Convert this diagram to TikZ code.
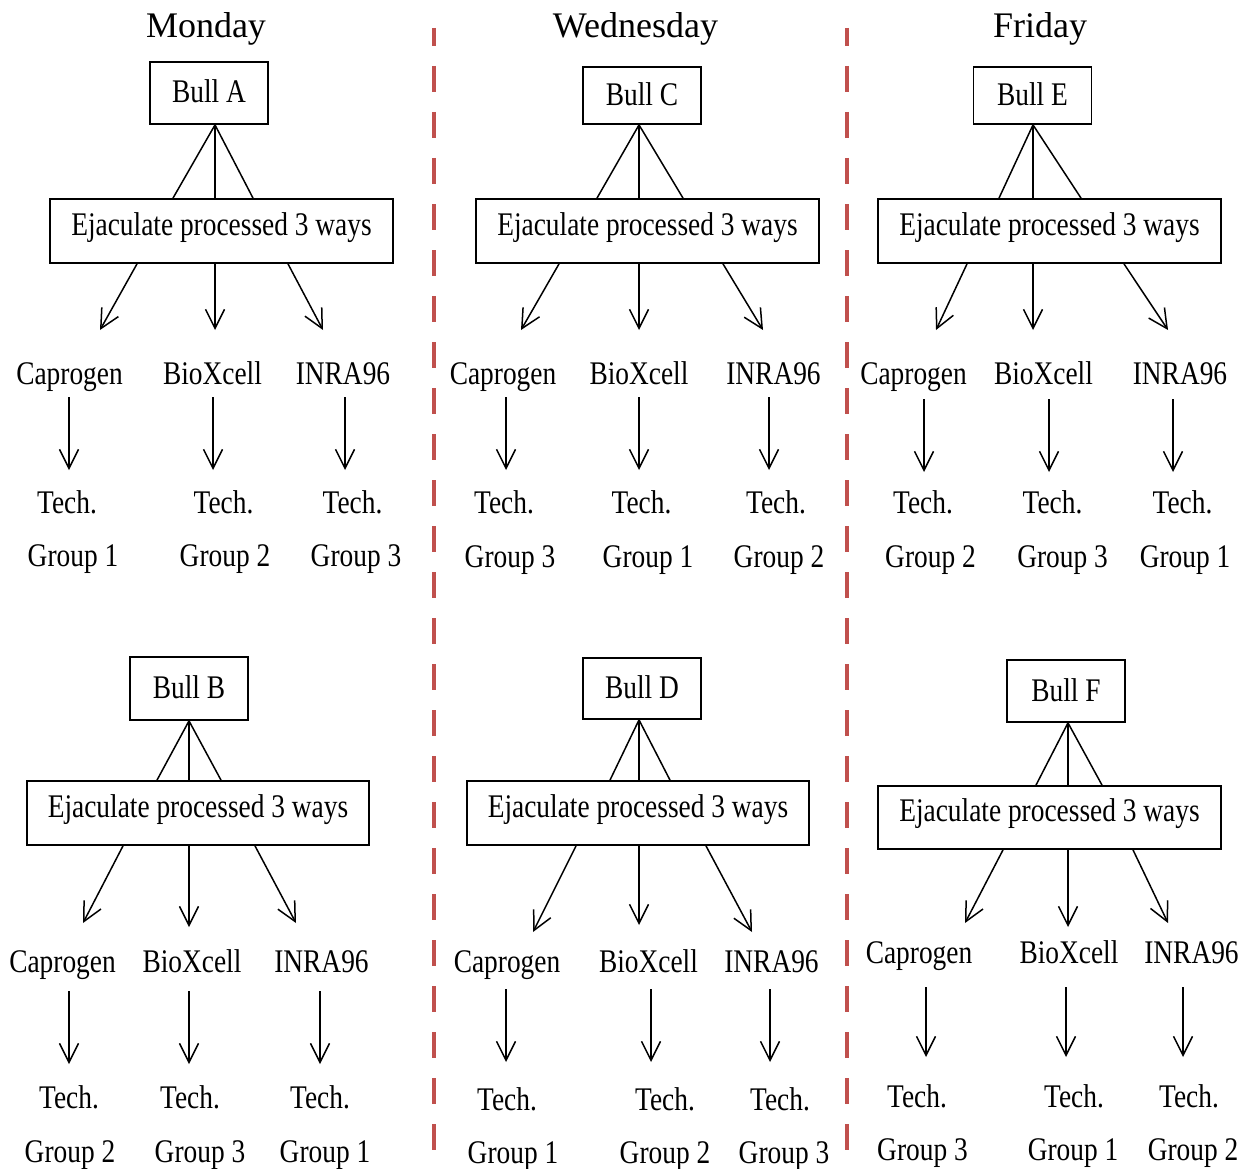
\documentclass[tikz,border=0pt]{standalone}
\usepackage{fontspec}
\setmainfont{Liberation Serif}[FakeBold=0.3]
\newfontfamily\cnd[FakeStretch=0.83]{Liberation Serif}
\newfontfamily\ttl{Liberation Serif}
\usetikzlibrary{arrows.meta}
\definecolor{dashred}{RGB}{192,80,77}
\newcommand\dnarrow[4]{%
  \coordinate (#1s) at (#2,#3);
  \coordinate (#1e) at (#2,#4);
  \draw[arr] (#1s) -- (#1e);}
\begin{document}
\begin{tikzpicture}[x=1pt,y=-1pt,
  bull/.style={draw, line width=1.8pt, minimum width=118pt, minimum height=#1,
    inner sep=0pt, font=\cnd\fontsize{33}{36}\selectfont, text height=24pt, text depth=4pt},
  eject/.style={draw, line width=1.8pt, minimum width=343pt, minimum height=#1,
    inner sep=0pt, font=\cnd\fontsize{33}{36}\selectfont, text height=24pt, text depth=16pt},
  lbl/.style={font=\cnd\fontsize{33}{36}\selectfont, anchor=base, inner sep=0pt},
  daytitle/.style={font=\ttl\fontsize{36}{40}\selectfont, anchor=base, inner sep=0pt},
  link/.style={line width=1.5pt},
  arr/.style={line width=1.5pt, -{Straight Barb[length=19pt,width=19pt]}},
  sep/.style={dashred, line width=4.5pt, dash pattern=on 26pt off 20pt, dash phase=8pt}]
\fill[white] (0,0) rectangle (1252,1169);
\useasboundingbox (0,0) rectangle (1252,1169);

% separators
\coordinate (s1t) at (434,28); \coordinate (s1b) at (434,1169);
\coordinate (s2t) at (847,28); \coordinate (s2b) at (847,1169);
\draw[sep] (s1t) -- (s1b);
\draw[sep] (s2t) -- (s2b);

% titles
\node[daytitle] (mon) at (206,38) {Monday};
\node[daytitle] (wed) at (635.5,38) {Wednesday};
\node[daytitle] (fri) at (1040,38) {Friday};

% ================= Panel A (Monday top)
\node[bull=62pt] (bA) at (209,93) {Bull A};
\node[eject=64pt] (eA) at (221.5,231) {Ejaculate processed 3 ways};
\draw[link] ([xshift=6pt]bA.south) -- ([xshift=-48.5pt]eA.north);
\draw[link] ([xshift=6pt]bA.south) -- ([xshift=-6.5pt]eA.north);
\draw[link] ([xshift=6pt]bA.south) -- ([xshift=31.5pt]eA.north);
\coordinate (pA1) at (100,330); \coordinate (pA2) at (215,330); \coordinate (pA3) at (323,330);
\draw[arr] ([xshift=-84.5pt]eA.south) -- (pA1);
\draw[arr] ([xshift=-6.5pt]eA.south) -- (pA2);
\draw[arr] ([xshift=66.5pt]eA.south) -- (pA3);
\node[lbl] (cA) at (69.5,384) {Caprogen};
\node[lbl] (xA) at (212.5,384) {BioXcell};
\node[lbl] (iA) at (343,384) {INRA96};
\dnarrow{dA1}{69}{397}{470}
\dnarrow{dA2}{213}{397}{470}
\dnarrow{dA3}{345}{397}{470}
\node[lbl] (tA1) at (67,513) {Tech.};
\node[lbl] (tA2) at (223.5,513) {Tech.};
\node[lbl] (tA3) at (352.5,513) {Tech.};
\node[lbl] (gA1) at (73,566) {Group 1};
\node[lbl] (gA2) at (225,566) {Group 2};
\node[lbl] (gA3) at (356,566) {Group 3};

% ================= Panel C (Wednesday top)
\node[bull=57pt] (bC) at (642,95.5) {Bull C};
\node[eject=64pt] (eC) at (647.5,231) {Ejaculate processed 3 ways};
\draw[link] ([xshift=-3pt]bC.south) -- ([xshift=-50.5pt]eC.north);
\draw[link] ([xshift=-3pt]bC.south) -- ([xshift=-8.5pt]eC.north);
\draw[link] ([xshift=-3pt]bC.south) -- ([xshift=35.5pt]eC.north);
\coordinate (pC1) at (521,330); \coordinate (pC2) at (639,330); \coordinate (pC3) at (763,330);
\draw[arr] ([xshift=-88.5pt]eC.south) -- (pC1);
\draw[arr] ([xshift=-8.5pt]eC.south) -- (pC2);
\draw[arr] ([xshift=75.5pt]eC.south) -- (pC3);
\node[lbl] (cC) at (503,384) {Caprogen};
\node[lbl] (xC) at (639,384) {BioXcell};
\node[lbl] (iC) at (773.5,384) {INRA96};
\dnarrow{dC1}{506}{397}{470}
\dnarrow{dC2}{639}{397}{470}
\dnarrow{dC3}{769}{397}{470}
\node[lbl] (tC1) at (504,513) {Tech.};
\node[lbl] (tC2) at (641.5,513) {Tech.};
\node[lbl] (tC3) at (776,513) {Tech.};
\node[lbl] (gC1) at (510,567) {Group 3};
\node[lbl] (gC2) at (648,567) {Group 1};
\node[lbl] (gC3) at (779,567) {Group 2};

% ================= Panel E (Friday top)
\node[bull=57pt] (bE) at (1032.5,95.5) {Bull E};
\node[eject=64pt] (eE) at (1049.5,231) {Ejaculate processed 3 ways};
\draw[link] ([xshift=0.5pt]bE.south) -- ([xshift=-50.5pt]eE.north);
\draw[link] ([xshift=0.5pt]bE.south) -- ([xshift=-16.5pt]eE.north);
\draw[link] ([xshift=0.5pt]bE.south) -- ([xshift=31.5pt]eE.north);
\coordinate (pE1) at (936,330); \coordinate (pE2) at (1033,330); \coordinate (pE3) at (1168,330);
\draw[arr] ([xshift=-82.5pt]eE.south) -- (pE1);
\draw[arr] ([xshift=-16.5pt]eE.south) -- (pE2);
\draw[arr] ([xshift=74.5pt]eE.south) -- (pE3);
\node[lbl] (cE) at (913.5,384) {Caprogen};
\node[lbl] (xE) at (1043.5,384) {BioXcell};
\node[lbl] (iE) at (1180,384) {INRA96};
\dnarrow{dE1}{924}{399}{472}
\dnarrow{dE2}{1049}{399}{472}
\dnarrow{dE3}{1173}{399}{472}
\node[lbl] (tE1) at (923,513) {Tech.};
\node[lbl] (tE2) at (1052.5,513) {Tech.};
\node[lbl] (tE3) at (1182.5,513) {Tech.};
\node[lbl] (gE1) at (930.5,567) {Group 2};
\node[lbl] (gE2) at (1062.5,567) {Group 3};
\node[lbl] (gE3) at (1185,567) {Group 1};

% ================= Panel B (Monday bottom)
\node[bull=63pt] (bB) at (189,688.5) {Bull B};
\node[eject=64pt, minimum width=342pt] (eB) at (198,813) {Ejaculate processed 3 ways};
\draw[link] (bB.south) -- ([xshift=-41pt]eB.north);
\draw[link] (bB.south) -- ([xshift=-9pt]eB.north);
\draw[link] (bB.south) -- ([xshift=23pt]eB.north);
\coordinate (pB1) at (83,923); \coordinate (pB2) at (189,927); \coordinate (pB3) at (296,923);
\draw[arr] ([xshift=-75pt]eB.south) -- (pB1);
\draw[arr] ([xshift=-9pt]eB.south) -- (pB2);
\draw[arr] ([xshift=57pt]eB.south) -- (pB3);
\node[lbl] (cB) at (62.5,972) {Caprogen};
\node[lbl] (xB) at (192,972) {BioXcell};
\node[lbl] (iB) at (321.5,972) {INRA96};
\dnarrow{dB1}{69}{991}{1064}
\dnarrow{dB2}{189}{991}{1064}
\dnarrow{dB3}{320}{991}{1064}
\node[lbl] (tB1) at (69,1108) {Tech.};
\node[lbl] (tB2) at (190,1108) {Tech.};
\node[lbl] (tB3) at (320,1108) {Tech.};
\node[lbl] (gB1) at (70,1162) {Group 2};
\node[lbl] (gB2) at (200,1162) {Group 3};
\node[lbl] (gB3) at (325,1162) {Group 1};

% ================= Panel D (Wednesday bottom)
\node[bull=61pt] (bD) at (642,688.5) {Bull D};
\node[eject=64pt, minimum width=342pt] (eD) at (638,813) {Ejaculate processed 3 ways};
\draw[link] ([xshift=-3pt]bD.south) -- ([xshift=-28pt]eD.north);
\draw[link] ([xshift=-3pt]bD.south) -- ([xshift=1pt]eD.north);
\draw[link] ([xshift=-3pt]bD.south) -- ([xshift=32pt]eD.north);
\coordinate (pD1) at (533,932); \coordinate (pD2) at (639,925); \coordinate (pD3) at (752,932);
\draw[arr] ([xshift=-62pt]eD.south) -- (pD1);
\draw[arr] ([xshift=1pt]eD.south) -- (pD2);
\draw[arr] ([xshift=68pt]eD.south) -- (pD3);
\node[lbl] (cD) at (507,972) {Caprogen};
\node[lbl] (xD) at (648.5,972) {BioXcell};
\node[lbl] (iD) at (771.5,972) {INRA96};
\dnarrow{dD1}{506}{989}{1062}
\dnarrow{dD2}{651}{989}{1062}
\dnarrow{dD3}{770}{989}{1062}
\node[lbl] (tD1) at (507,1110) {Tech.};
\node[lbl] (tD2) at (665,1110) {Tech.};
\node[lbl] (tD3) at (780,1110) {Tech.};
\node[lbl] (gD1) at (513,1163) {Group 1};
\node[lbl] (gD2) at (665,1163) {Group 2};
\node[lbl] (gD3) at (784,1163) {Group 3};

% ================= Panel F (Friday bottom)
\node[bull=62pt] (bF) at (1066,691) {Bull F};
\node[eject=63pt] (eF) at (1049.5,817.5) {Ejaculate processed 3 ways};
\draw[link] ([xshift=2pt]bF.south) -- ([xshift=-13.5pt]eF.north);
\draw[link] ([xshift=2pt]bF.south) -- ([xshift=18.5pt]eF.north);
\draw[link] ([xshift=2pt]bF.south) -- ([xshift=52.5pt]eF.north);
\coordinate (pF1) at (965,923); \coordinate (pF2) at (1068,927); \coordinate (pF3) at (1168,923);
\draw[arr] ([xshift=-46.5pt]eF.south) -- (pF1);
\draw[arr] ([xshift=18.5pt]eF.south) -- (pF2);
\draw[arr] ([xshift=83.5pt]eF.south) -- (pF3);
\node[lbl] (cF) at (919,963) {Caprogen};
\node[lbl] (xF) at (1069,963) {BioXcell};
\node[lbl] (iF) at (1191.5,963) {INRA96};
\dnarrow{dF1}{926}{987}{1057}
\dnarrow{dF2}{1066}{987}{1057}
\dnarrow{dF3}{1183}{987}{1057}
\node[lbl] (tF1) at (917,1107) {Tech.};
\node[lbl] (tF2) at (1074,1107) {Tech.};
\node[lbl] (tF3) at (1189,1107) {Tech.};
\node[lbl] (gF1) at (922.5,1160) {Group 3};
\node[lbl] (gF2) at (1073,1160) {Group 1};
\node[lbl] (gF3) at (1193,1160) {Group 2};
\end{tikzpicture}
\end{document}
